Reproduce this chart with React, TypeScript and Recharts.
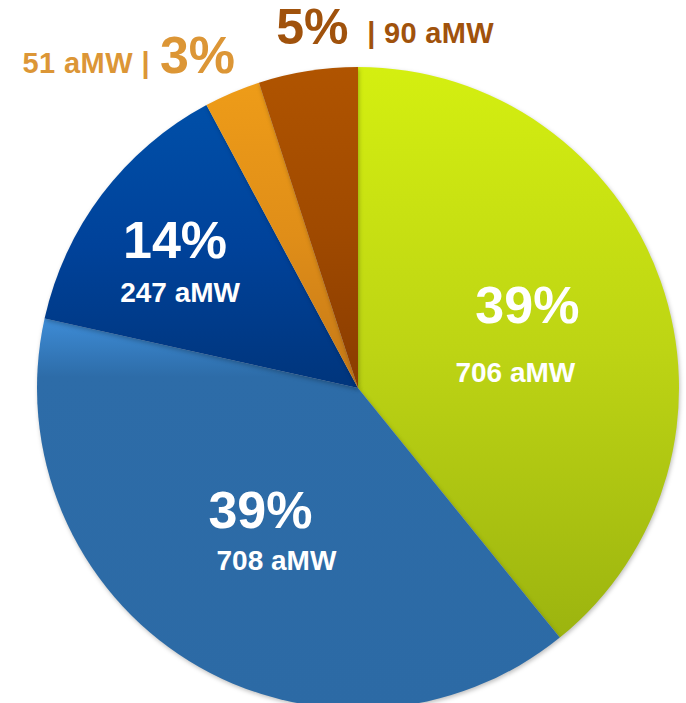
import React from 'react';
import { PieChart, Pie, Cell } from 'recharts';

// generation mix, average megawatts
const SOURCES = ['Renewables', 'Hydro', 'Coal', 'Gas', 'Other'];
const AMW = [706, 708, 247, 51, 90];

// gradient stops per slice (top, bottom)
const GRADIENTS = [
  { id: 'gGreen', top: '#d4ef10', mid: '#bdd414', bottom: '#9cb40f', midAt: '50%' },
  { id: 'gBlue', top: '#3e8cd6', mid: '#2d6ca8', bottom: '#2c6aa5', midAt: '15%' },
  { id: 'gNavy', top: '#004fa8', mid: '#00429a', bottom: '#00357c', midAt: '50%' },
  { id: 'gOrange', top: '#ee9c18', mid: '#e08e18', bottom: '#c47818', midAt: '50%' },
  { id: 'gBrown', top: '#b05400', mid: '#a04a00', bottom: '#8a3c00', midAt: '50%' },
];

// label placement: k = fraction of radius along mid angle, offsets for each text line
const LABEL_LAYOUT = [
  { k: 0.53, inside: true, p: [9, -26], v: [-3, 41] },
  { k: 0.536, inside: true, p: [-7, -24], v: [9, 26] },
  { k: 0.676, inside: true, p: [-10, -17], v: [-5, 36] },
  { k: 1.05, inside: false, p: [-66, -23], v: [-76, -15], color: '#dc9636', order: 'valueFirst' },
  { k: 1.05, inside: false, p: [7, -28], v: [62, -22], color: '#a0520c', order: 'pctFirst' },
];

const data = SOURCES.map((name, i) => ({ name, value: AMW[i] }));

const RADIAN = Math.PI / 180;
const FONT = '"Liberation Sans", Arial, sans-serif';

const renderLabel = (props: any) => {
  const { cx, cy, midAngle, outerRadius, percent, value, index } = props;
  const lay = LABEL_LAYOUT[index];
  const r = outerRadius * lay.k;
  const x = cx + r * Math.cos(-midAngle * RADIAN);
  const y = cy + r * Math.sin(-midAngle * RADIAN);
  const pct = `${Math.round(percent * 100)}%`;

  if (lay.inside) {
    return (
      <g key={`lbl-${index}`}>
        <text x={x + lay.p[0]} y={y + lay.p[1]} fill="#fff" fontFamily={FONT} fontWeight="bold"
          fontSize={52} textAnchor="middle" dominantBaseline="central">{pct}</text>
        <text x={x + lay.v[0]} y={y + lay.v[1]} fill="#fff" fontFamily={FONT} fontWeight="bold"
          fontSize={28} textAnchor="middle" dominantBaseline="central">{`${value} aMW`}</text>
      </g>
    );
  }

  if (lay.order === 'valueFirst') {
    return (
      <g key={`lbl-${index}`}>
        <text x={x + lay.v[0]} y={y + lay.v[1]} fill={lay.color} fontFamily={FONT} fontWeight="bold"
          fontSize={29} letterSpacing={0.4} textAnchor="end" dominantBaseline="central">{`${value} aMW |`}</text>
        <text x={x + lay.p[0]} y={y + lay.p[1]} fill={lay.color} fontFamily={FONT} fontWeight="bold"
          fontSize={52} textAnchor="start" dominantBaseline="central">{pct}</text>
      </g>
    );
  }

  return (
    <g key={`lbl-${index}`}>
      <text x={x + lay.p[0]} y={y + lay.p[1]} fill={lay.color} fontFamily={FONT} fontWeight="bold"
        fontSize={50} textAnchor="middle" dominantBaseline="central">{pct}</text>
      <text x={x + lay.v[0]} y={y + lay.v[1]} fill={lay.color} fontFamily={FONT} fontWeight="bold"
        fontSize={29} letterSpacing={0.3} textAnchor="start" dominantBaseline="central">{`| ${value} aMW`}</text>
    </g>
  );
};

export default function App() {
  return (
    <div style={{ position: 'absolute', left: 0, top: 0, width: 686, height: 703, background: '#fff' }}>
      <style>{'.recharts-pie-sector path { filter: drop-shadow(1px 2px 2px rgba(0,0,0,0.25)); }'}</style>
      <svg width={0} height={0} style={{ position: 'absolute' }}>
        <defs>
          {GRADIENTS.map((g) => (
            <linearGradient key={g.id} id={g.id} x1="0" y1="0" x2="0" y2="1">
              <stop offset="0%" stopColor={g.top} />
              <stop offset={g.midAt} stopColor={g.mid} />
              <stop offset="100%" stopColor={g.bottom} />
            </linearGradient>
          ))}
        </defs>
      </svg>
      <PieChart width={686} height={703} margin={{ top: 0, right: 0, bottom: 0, left: 0 }}>
        <Pie
          data={data}
          dataKey="value"
          nameKey="name"
          cx={358}
          cy={388}
          outerRadius={321}
          startAngle={90}
          endAngle={-270}
          stroke="none"
          labelLine={false}
          label={renderLabel}
          isAnimationActive={false}
        >
          {data.map((entry, index) => (
            <Cell key={`cell-${index}`} fill={`url(#${GRADIENTS[index].id})`} />
          ))}
        </Pie>
      </PieChart>
    </div>
  );
}
